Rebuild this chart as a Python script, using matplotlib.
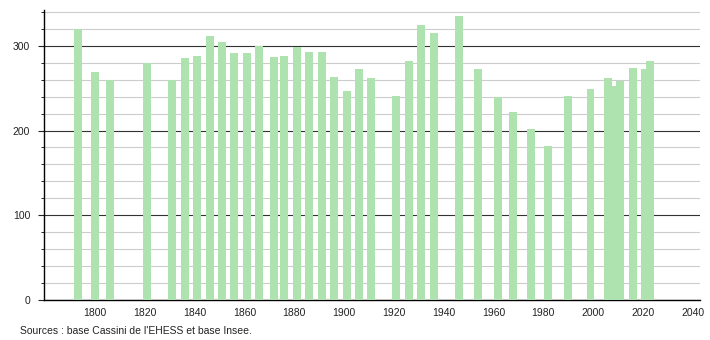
import matplotlib.pyplot as plt
from matplotlib.ticker import MultipleLocator

years = [1793, 1800, 1806, 1821, 1831, 1836, 1841, 1846, 1851, 1856, 1861, 1866,
         1872, 1876, 1881, 1886, 1891, 1896, 1901, 1906, 1911, 1921, 1926, 1931,
         1936, 1946, 1954, 1962, 1968, 1975, 1982, 1990, 1999, 2006, 2008, 2011,
         2016, 2021, 2023]
population = [320, 269, 260, 280, 260, 286, 288, 312, 304, 291, 292, 300,
              287, 288, 299, 293, 293, 263, 247, 273, 262, 241, 282, 325,
              315, 335, 273, 240, 222, 202, 182, 241, 249, 262, 253, 259,
              274, 273, 282]

plt.rcParams['font.family'] = ['Liberation Sans', 'DejaVu Sans']

fig = plt.figure(figsize=(7.1, 3.4), dpi=100)
ax = fig.add_axes([0.062, 0.1176, 0.924, 0.8524])

ax.bar(years, population, width=3.2, color='#aee3b0', zorder=3)

ax.set_xlim(1779.5, 2043)
ax.set_ylim(0, 342)
ax.set_xticks(range(1800, 2041, 20))
ax.yaxis.set_major_locator(MultipleLocator(100))
ax.yaxis.set_minor_locator(MultipleLocator(20))

ax.grid(which='minor', axis='y', color='#cccccc', linewidth=0.8, zorder=0)
ax.grid(which='major', axis='y', color='#333333', linewidth=0.8, zorder=1)

for s in ['top', 'right']:
    ax.spines[s].set_visible(False)
ax.spines['left'].set_linewidth(1)
ax.spines['bottom'].set_linewidth(1)

ax.tick_params(axis='x', length=0, labelsize=7.5, pad=6, colors='#222222')
ax.tick_params(axis='y', which='major', length=4, labelsize=7.5, pad=6, colors='#222222')
ax.tick_params(axis='y', which='minor', length=2)

fig.text(0.028, 0.018, "Sources : base Cassini de l'EHESS et base Insee.",
         fontsize=7.5, color='#222222')

fig.savefig('out.png', dpi=100)
